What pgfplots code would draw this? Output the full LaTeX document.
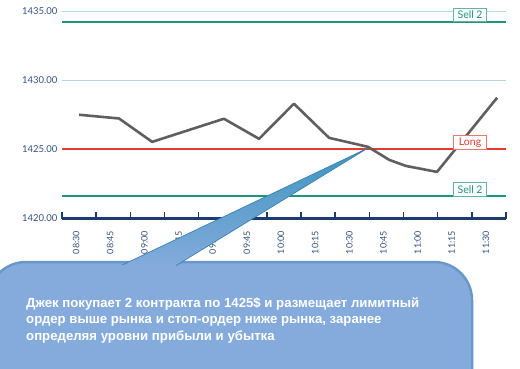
\documentclass[border=0pt]{standalone}
\usepackage{pgfplots}
\pgfplotsset{compat=1.18}
\usepackage{fontspec}
\setmainfont{Lato}
\newfontfamily\calloutfont{Liberation Sans}
\definecolor{gridc}{HTML}{B5D6E3}
\definecolor{tealc}{HTML}{1B9480}
\definecolor{redc}{HTML}{E8392F}
\definecolor{navy}{HTML}{1B3D6D}
\definecolor{linegray}{HTML}{5F5F5F}
\definecolor{labnavy}{HTML}{34507F}
\definecolor{cfill}{HTML}{85ABDC}
\definecolor{cedge}{HTML}{6A97CA}
\definecolor{wtop}{HTML}{3E95C0}
\definecolor{wedge}{HTML}{3A82AE}
\begin{document}
\begin{tikzpicture}[x=1pt,y=1pt]
\useasboundingbox (0,0) rectangle (520,368);
\begin{axis}[
  at={(62pt,149.5pt)}, anchor=south west,
  scale only axis, width=444pt, height=207.5pt,
  xmin=-0.5, xmax=12.5, ymin=1420, ymax=1435,
  clip=false,
  axis lines*=left,
  y axis line style={draw=none},
  x axis line style={navy, line width=2.4pt, -},
  ytick={1420,1425,1430,1435},
  ymajorgrids,
  major grid style={gridc, line width=0.8pt},
  ytick style={draw=none},
  yticklabel style={font=\fontsize{9.5}{10}\selectfont, text=labnavy, xshift=-1pt},
  /pgf/number format/.cd, fixed, fixed zerofill, precision=2, 1000 sep={}, assume math mode=true,
  /pgfplots/.cd,
  xtick={-0.5,0.5,1.5,2.5,3.5,4.5,5.5,6.5,7.5,8.5,9.5,10.5,11.5,12.5},
  xticklabels={},
  xtick style={navy, line width=1.5pt},
  xtick align=inside,
  major tick length=7pt,
  extra x ticks={0,...,12},
  extra x tick labels={08:30,08:45,09:00,09:15,09:30,09:45,10:00,10:15,10:30,10:45,11:00,11:15,11:30},
  extra x tick style={major tick length=0pt, tick style={draw=none},
    xticklabel style={rotate=90, anchor=east, font=\fontsize{9}{10}\selectfont, text=labnavy, xshift=-9pt, yshift=3pt}},
]
\addplot[tealc, line width=2pt] coordinates {(-0.5,1434.2) (12.5,1434.2)};
\addplot[redc, line width=1.8pt] coordinates {(-0.5,1425) (12.5,1425)};
\addplot[tealc, line width=2pt] coordinates {(-0.5,1421.6) (12.5,1421.6)};
\addplot[linegray, line width=2.6pt, line join=round] coordinates {
 (0.0,1427.5) (1.17,1427.23) (2.14,1425.54) (4.24,1427.21) (5.27,1425.76)
 (6.29,1428.3) (7.32,1425.83) (8.46,1425.18) (9.08,1424.24) (9.57,1423.8)
 (10.48,1423.37) (12.24,1428.73)};
\node[draw=tealc!70, line width=0.6pt, fill=white, text=tealc, font=\fontsize{10.5}{11}\selectfont, inner sep=1pt, minimum width=33pt, minimum height=13.5pt, anchor=south east] at (axis cs:11.94,1434.2) {Sell 2};
\node[draw=redc!70, line width=0.6pt, fill=white, text=redc, font=\fontsize{10.5}{11}\selectfont, inner sep=1pt, minimum width=33pt, minimum height=13.5pt, anchor=south east] at (axis cs:11.94,1425) {Long};
\node[draw=tealc!70, line width=0.6pt, fill=white, text=tealc, font=\fontsize{10.5}{11}\selectfont, inner sep=1pt, minimum width=33pt, minimum height=13.5pt, anchor=south east] at (axis cs:11.94,1421.6) {Sell 2};
\end{axis}
% callout
\fill[cfill, draw=cedge, line width=2.5pt, rounded corners=38pt] (-12,-40) rectangle (472,106);
\shade[top color=wtop, bottom color=cfill, draw=wedge, line width=0.7pt] (116,100) -- (368,220) -- (172,100) -- cycle;
\fill[cfill] (112,90) rectangle (176,103.5);
\calloutfont\bfseries\fontsize{13.2}{15}\selectfont
\node[anchor=base west, text=white, inner sep=0] at (26,61) {Джек покупает 2 контракта по 1425\$ и размещает лимитный};
\node[anchor=base west, text=white, inner sep=0] at (26,44.5) {ордер выше рынка и стоп-ордер ниже рынка, заранее};
\node[anchor=base west, text=white, inner sep=0] at (26,28) {определяя уровни прибыли и убытка};
\end{tikzpicture}
\end{document}
